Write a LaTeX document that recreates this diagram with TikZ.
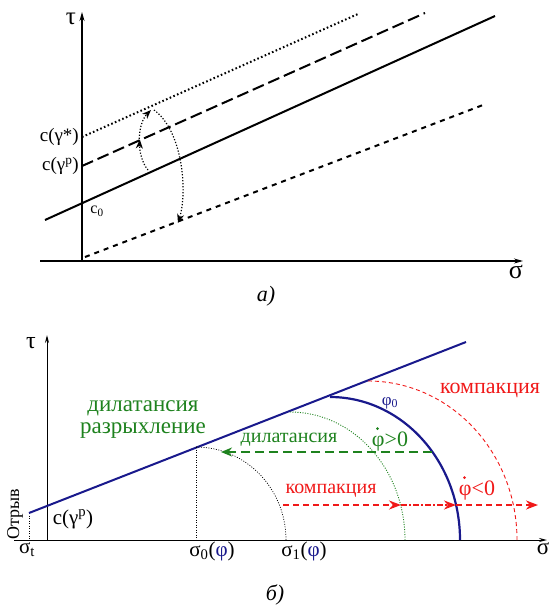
\documentclass[tikz,border=0pt]{standalone}
\usepackage{fontspec}
\setmainfont{Liberation Serif}
\usetikzlibrary{arrows.meta,decorations.markings}
\definecolor{myblue}{RGB}{25,25,140}
\definecolor{mygreen}{RGB}{30,130,30}
\definecolor{myred}{RGB}{240,25,25}
\newcommand{\fs}[1]{\fontsize{#1}{#1}\selectfont}
\begin{document}
\begin{tikzpicture}[x=1pt,y=-1pt,
  axisline/.style={line width=1.2pt,-{Stealth[length=9pt,width=5pt]}},
  lbl/.style={inner sep=0pt,font=\fs{18}},
  solidl/.style={line width=2pt},
  longdash/.style={line width=2pt,dash pattern=on 12pt off 5pt},
  dotl/.style={line width=2pt,dash pattern=on 1.6pt off 2.4pt},
  shortdash/.style={line width=2pt,dash pattern=on 5pt off 5pt},
  arcdot/.style={line width=1.2pt,dash pattern=on 1.2pt off 1.8pt},
  midarrow/.style={postaction={decorate},decoration={markings,
     mark=at position #1 with {\arrow{Stealth[length=9pt,width=7pt]}}}},
  thindot/.style={line width=0.7pt,dash pattern=on 1pt off 1.5pt},
]
\useasboundingbox (0,0) rectangle (551,608);
% ---------------- top diagram ----------------
\coordinate (O1) at (82,261);
\coordinate (tauTip1) at (82,12);
\coordinate (sigStart1) at (40,261);
\coordinate (sigTip1) at (523,261);
\draw[axisline] (O1) -- (tauTip1);
\draw[axisline] (sigStart1) -- (sigTip1);
\node[lbl,font=\fs{25}] (tau1) at (71,19) {τ};
\node[lbl,font=\fs{26}] (sig1) at (516,272) {σ};

\coordinate (s0) at (45,220); \coordinate (s1) at (495,16);
\coordinate (ld0) at (82,166); \coordinate (ld1) at (425,13);
\coordinate (dt0) at (82,137); \coordinate (dt1) at (358,14);
\coordinate (sd0) at (85,257); \coordinate (sd1) at (483,105);
\draw[solidl] (s0) -- (s1);
\draw[longdash] (ld0) -- (ld1);
\draw[dotl] (dt0) -- (dt1);
\draw[shortdash] (sd0) -- (sd1);

\node[lbl,anchor=east,font=\fs{19}] (cgs) at (79,137) {c(γ*)};
\node[lbl,anchor=east,font=\fs{19}] (cgp) at (79,166) {c(γ\textsuperscript{p})};
\node[lbl,font=\fs{16}] (c0) at (97,211) {c\textsubscript{0}};

\coordinate (a1) at (148,170); \coordinate (a2) at (151,110);
\coordinate (a3) at (154,110); \coordinate (a4) at (178,223);
\draw[arcdot,midarrow=0.5,-{Stealth[length=9pt,width=7pt]}] (a1) .. controls (136,156) and (137,124) .. (a2);
\draw[arcdot,-{Stealth[length=9pt,width=7pt]}] (a3) .. controls (182,130) and (188,190) .. (a4);

\node[lbl,font=\fs{22}\itshape] (capA) at (266,296) {а)};

% ---------------- bottom diagram ----------------
\coordinate (O2) at (47,540);
\coordinate (tauTip2) at (47,335);
\coordinate (sigStart2) at (14,540);
\coordinate (sigTip2) at (547,540);
\draw[axisline,line width=1pt,-{Stealth[length=8pt,width=4pt]}] (O2) -- (tauTip2);
\draw[axisline,line width=1pt,-{Stealth[length=8pt,width=4pt]}] (sigStart2) -- (sigTip2);
\node[lbl,font=\fs{24}] (tau2) at (31,343) {τ};
\node[lbl,font=\fs{23}] (sig2) at (543,549) {σ};

\coordinate (bl0) at (29,513); \coordinate (bl1) at (466,342);
\coordinate (blb) at (29,540);
\draw[thindot] (bl0) -- (blb);
\draw[myblue,line width=2pt] (bl0) -- (bl1);
\node[lbl,rotate=90,font=\fs{18}] (otr) at (15,514) {Отрыв};
\node[lbl,font=\fs{21}] (sigt) at (27,550) {σ\textsubscript{t}};
\node[lbl,font=\fs{21}] (cgp2) at (73,519) {c(γ\textsuperscript{p})};

\node[lbl,font=\fs{23},text=mygreen,align=center] (dilraz) at (143,420)
  {дилатансия\\[-1pt]разрыхление};

% sigma0 circle (black dotted)
\coordinate (p0) at (196,447); \coordinate (p0b) at (196,540);
\draw[thindot] (p0) -- (p0b);
\draw[thindot] (p0) arc[start angle=90,end angle=0,x radius=90pt,y radius=93pt];
\node[lbl,font=\fs{21}] (sig0) at (212,551) {σ\textsubscript{0}(\textcolor{myblue}{φ})};
\node[lbl,font=\fs{21}] (sig1b) at (304,551) {σ\textsubscript{1}(\textcolor{myblue}{φ})};

% green dotted circle
\coordinate (pg) at (290,412);
\draw[mygreen,thindot,line width=0.9pt] (pg) arc[start angle=90,end angle=0,x radius=115pt,y radius=128pt];
% blue solid circle
\coordinate (pb) at (330,397);
\draw[myblue,line width=2.2pt] (pb) arc[start angle=90,end angle=0,x radius=130pt,y radius=143pt];
\node[lbl,font=\fs{17},text=myblue] (phi0) at (390,403) {φ\textsubscript{0}};
% red dashed circle
\coordinate (pr) at (368,381);
\draw[myred,line width=0.9pt,dash pattern=on 4pt off 3pt] (pr) arc[start angle=90,end angle=0,x radius=149pt,y radius=159pt];
\node[lbl,font=\fs{22},text=myred] (komp1) at (490,390) {компакция};

% green dashed arrow
\coordinate (gA) at (432,452); \coordinate (gB) at (221,452);
\draw[mygreen,line width=2.5pt,dash pattern=on 9pt off 5pt,-{Stealth[length=11pt,width=9pt]}] (gA) -- (gB);
\node[lbl,font=\fs{20},text=mygreen] (dil2) at (289,440) {дилатансия};
\node[lbl,font=\fs{22},text=mygreen] (phig) at (390,442) {φ>0};
\fill[mygreen] ([xshift=5.8pt,yshift=3.5pt]phig.north west) circle (1.5pt);

% red dashed arrow
\coordinate (rA) at (283,505); \coordinate (rB) at (401,505);
\coordinate (rC) at (456,505); \coordinate (rD) at (538,505);
\draw[myred,line width=2pt,dash pattern=on 6pt off 4pt,-{Stealth[length=12pt,width=9pt]}] (rA) -- (rB);
\draw[myred,line width=2pt,dash pattern=on 6pt off 2pt on 2pt off 2pt,-{Stealth[length=12pt,width=9pt]}] (rB) -- (rC);
\draw[myred,line width=2pt,dash pattern=on 6pt off 4pt,-{Stealth[length=12pt,width=9pt]}] (rC) -- (rD);
\node[lbl,font=\fs{20},text=myred] (komp2) at (331,491) {компакция};
\node[lbl,font=\fs{22},text=myred] (phir) at (477,491) {φ<0};
\fill[myred] ([xshift=5.8pt,yshift=3.5pt]phir.north west) circle (1.5pt);

\node[lbl,font=\fs{22}\itshape] (capB) at (275,595) {б)};
\end{tikzpicture}
\end{document}
